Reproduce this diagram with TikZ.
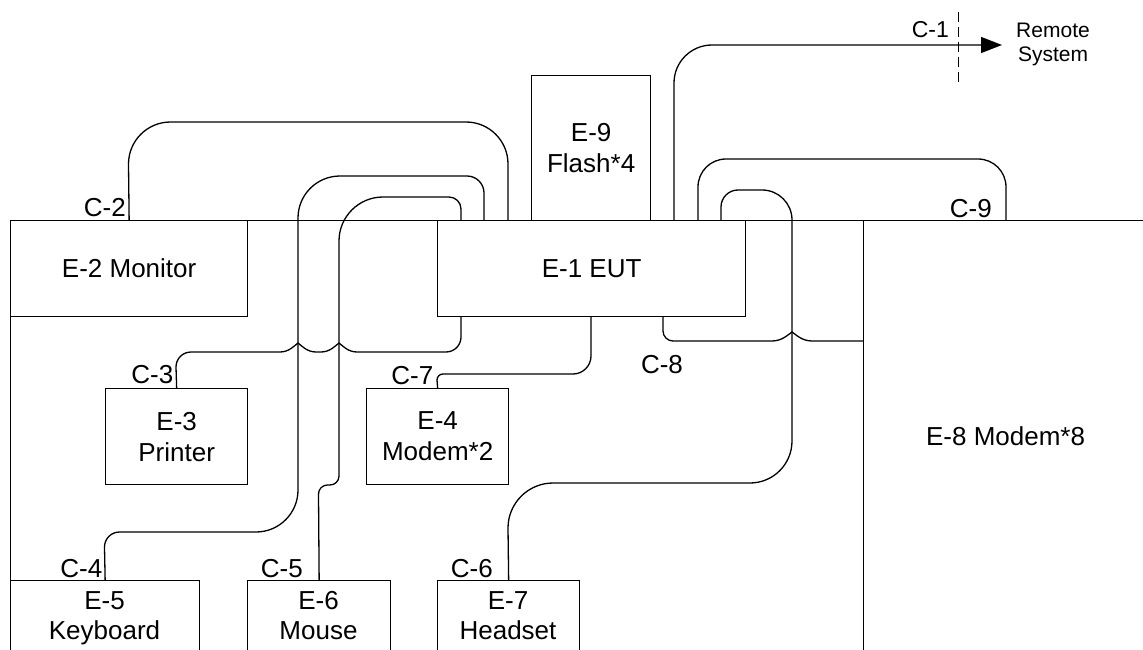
\documentclass[tikz,border=0pt]{standalone}
\usepackage{fontspec}
\setmainfont{Liberation Sans}
\usetikzlibrary{arrows.meta}
\begin{document}
\begin{tikzpicture}[x=1pt,y=-1pt,
  box/.style={draw, line width=1.3pt, inner sep=0pt, anchor=north west, align=center, font=\fontsize{26}{31}\selectfont},
  lbl/.style={inner sep=0pt, font=\fontsize{26}{31}\selectfont},
  smalllbl/.style={inner sep=0pt, font=\fontsize{21}{24}\selectfont},
  cable/.style={line width=1.3pt},
  cut/.style={line width=1pt, dash pattern=on 10pt off 5pt},
]
\path[use as bounding box] (0,0) rectangle (1143,650);
\fill[white] (0,0) rectangle (1143,650);
\clip (0,0) rectangle (1143,650);

% outline and equipment boxes
\node[box, minimum width=1190pt, minimum height=480pt] (room) at (10,220) {};
\node[box, minimum width=237pt, minimum height=96pt] (e2) at (10,220) {E-2 Monitor};
\node[box, minimum width=308pt, minimum height=96pt] (e1) at (437,220) {E-1 EUT};
\node[box, minimum width=119pt, minimum height=145pt] (e9) at (531,75) {E-9\\Flash*4};
\node[box, minimum width=142pt, minimum height=96pt] (e3) at (105,388) {E-3\\Printer};
\node[box, minimum width=142pt, minimum height=96pt] (e4) at (366,388) {E-4\\Modem*2};
\node[box, minimum width=189pt, minimum height=120pt] (e5) at (10,580) {};
\node[box, minimum width=143pt, minimum height=120pt] (e6) at (247,580) {};
\node[box, minimum width=142pt, minimum height=120pt] (e7) at (437,580) {};
\node[box, minimum width=340pt, minimum height=480pt] (e8) at (863,220) {};

\node[lbl, anchor=base] (t5a) at (104.5,609.3) {E-5};
\node[lbl, anchor=base] (t5b) at (104.5,639.3) {Keyboard};
\node[lbl, anchor=base] (t6a) at (318.5,609.3) {E-6};
\node[lbl, anchor=base] (t6b) at (318.5,639.3) {Mouse};
\node[lbl, anchor=base] (t7a) at (508,609.3) {E-7};
\node[lbl, anchor=base] (t7b) at (508,639.3) {Headset};
\node[lbl, anchor=base] (t8) at (1005.6,445) {E-8 Modem*8};

% ports
\coordinate (p1) at (674,220);
\coordinate (p2) at (508,220);
\coordinate (p4) at (484,220);
\coordinate (p5) at (461,220);
\coordinate (p3) at (461,316);
\coordinate (p7) at (591,316);
\coordinate (p8) at (663,316);
\coordinate (p6) at (721,220);
\coordinate (p9) at (698,220);
\coordinate (q9) at (1006,220);
\coordinate (q8) at (863,341);
\coordinate (r1) at (1002,45);
\coordinate (d1) at (958,12);
\coordinate (d2) at (958,82);

% C-1
\draw[cable, -{Triangle[length=21pt,width=16pt]}] (p1) -- (674,83) .. controls (674,62) and (691,45) .. (712,45) -- (r1);
\draw[cut] (d1) -- (d2);
% C-2
\draw[cable] (e2.north) -- (128.5,164) .. controls (128.5,140.8) and (147.3,122) .. (170.5,122) -- (466,122) .. controls (489.2,122) and (508,140.8) .. (508,164) -- (p2);
% C-4
\draw[cable] (p4) -- (484,193) .. controls (484,183.6) and (476.4,176) .. (467,176) -- (340,176) .. controls (316.8,176) and (298,194.8) .. (298,218) -- (298,490) .. controls (298,513.2) and (279.2,532) .. (256,532) -- (119.5,532) .. controls (111.2,532) and (104.5,538.7) .. (104.5,547) -- (e5.north);
% C-5
\draw[cable] (p5) -- (461,209) .. controls (461,202.4) and (455.6,197) .. (449,197) -- (383,197) .. controls (358.7,197) and (339,216.7) .. (339,241) -- (339,476) .. controls (339,481) and (335,485) .. (330,485) -- (327.5,485) .. controls (322.5,485) and (318.5,489) .. (318.5,494) -- (e6.north);
% C-3
\draw[cable] (p3) -- (461,337) .. controls (461,345.3) and (454.3,352) .. (446,352) -- (357,352) .. controls (348,352) and (342.6,345.7) .. (339,343) .. controls (335.4,345.7) and (330,352) .. (321,352) -- (316,352) .. controls (307,352) and (301.6,345.7) .. (298,343) .. controls (294.4,345.7) and (289,352) .. (280,352) -- (191,352) .. controls (182.7,352) and (176,358.7) .. (176,367) -- (e3.north);
% C-7
\draw[cable] (p7) -- (591,356) .. controls (591,365.9) and (582.9,374) .. (573,374) -- (443,374) .. controls (439.7,374) and (437,376.7) .. (437,380) -- (e4.north);
% C-8
\draw[cable] (p8) -- (663,331) .. controls (663,336.5) and (667.5,341) .. (673,341) -- (772,341) .. controls (782,341) and (788,334.7) .. (792,332) .. controls (796,334.7) and (802,341) .. (812,341) -- (q8);
% C-6
\draw[cable] (p6) -- (721,207) .. controls (721,197.6) and (728.6,190) .. (738,190) -- (762,190) .. controls (778.6,190) and (792,203.4) .. (792,220) -- (792,441) .. controls (792,464.2) and (773.2,483) .. (750,483) -- (553,483) .. controls (528.2,483) and (508,503.2) .. (508,528) -- (e7.north);
% C-9
\draw[cable] (p9) -- (698,187) .. controls (698,171.5) and (710.5,159) .. (726,159) -- (978,159) .. controls (993.5,159) and (1006,171.5) .. (1006,187) -- (q9);

% cable labels
\node[lbl, anchor=base east, font=\fontsize{23}{27}\selectfont] (l1) at (949,38) {C-1};
\node[lbl, anchor=base east] (l2) at (126,216) {C-2};
\node[lbl, anchor=base east] (l3) at (173.5,383) {C-3};
\node[lbl, anchor=base east] (l4) at (102.5,577) {C-4};
\node[lbl, anchor=base east] (l5) at (303,577) {C-5};
\node[lbl, anchor=base east] (l6) at (493,577) {C-6};
\node[lbl, anchor=base east] (l7) at (433.5,384) {C-7};
\node[lbl, anchor=base] (l8) at (662,373) {C-8};
\node[lbl, anchor=base east] (l9) at (992,217) {C-9};
\node[smalllbl, anchor=base] (rs1) at (1053,37.5) {Remote};
\node[smalllbl, anchor=base] (rs2) at (1053,61.5) {System};
\end{tikzpicture}
\end{document}
